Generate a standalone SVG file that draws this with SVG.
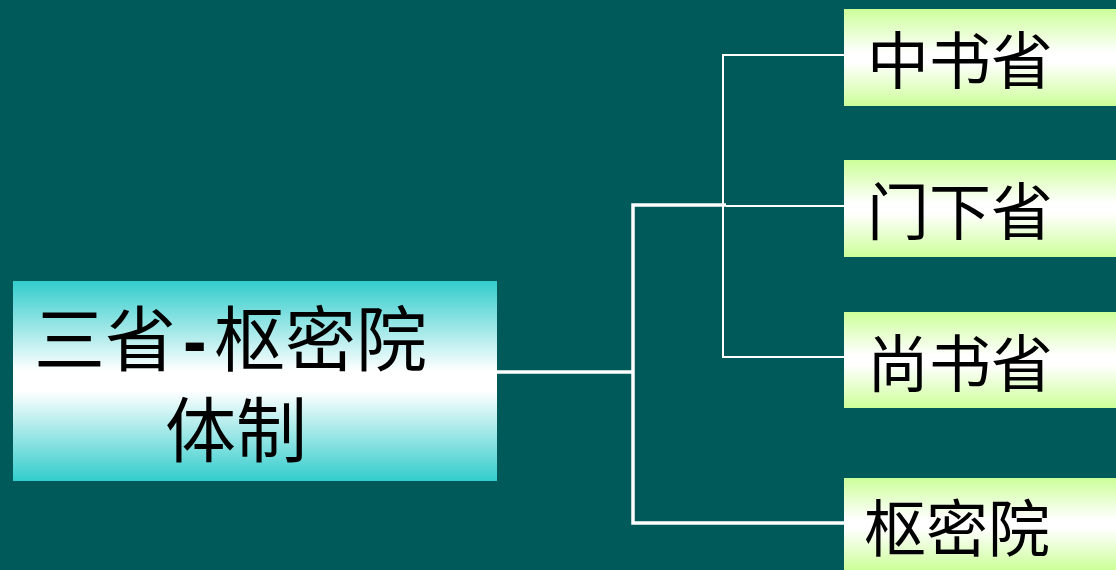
<svg xmlns="http://www.w3.org/2000/svg" width="1116" height="570" viewBox="0 0 1116 570">
<defs>
<linearGradient id="gTeal" x1="0" y1="0" x2="0" y2="1">
<stop offset="0" stop-color="#33CCCC"/>
<stop offset="0.45" stop-color="#FFFFFF"/>
<stop offset="0.55" stop-color="#FFFFFF"/>
<stop offset="1" stop-color="#33CCCC"/>
</linearGradient>
<linearGradient id="gGreen" x1="0" y1="0" x2="0" y2="1">
<stop offset="0" stop-color="#CCFF99"/>
<stop offset="0.45" stop-color="#FFFFFF"/>
<stop offset="0.55" stop-color="#FFFFFF"/>
<stop offset="1" stop-color="#CCFF99"/>
</linearGradient>
</defs>
<style>
.t{font-family:"Noto Sans CJK SC","Noto Sans",sans-serif;fill:#000;}
.big{font-size:71px;}
.sm{font-size:62px;}
.dash{font-family:"Liberation Sans",Arial,sans-serif;font-weight:bold;}
.thick{stroke:#FFFFFF;stroke-width:3.5;fill:none;}
.thin{stroke:#FFFFFF;stroke-width:2;fill:none;}
</style>
<rect width="1116" height="570" fill="#005A5A"/>
<g id="connectors">
<line class="thick" x1="497" y1="372" x2="633" y2="372"/>
<polyline class="thick" points="726,205 633,205 633,523 844,523"/>
<line class="thin" x1="726" y1="206" x2="844" y2="206"/>
<polyline class="thin" points="728,55 723,55 723,357 844,357"/>
<line class="thin" x1="728" y1="55" x2="844" y2="55"/>
</g>
<g id="root">
<rect x="13" y="281" width="484" height="200" fill="url(#gTeal)"/>
<text class="t big"><tspan x="34" y="365">三省</tspan><tspan class="dash" x="183" y="365">-</tspan><tspan x="214" y="365">枢密院</tspan><tspan x="165" y="456">体制</tspan></text>
</g>
<g id="zhongshu">
<rect x="844" y="9" width="272" height="97" fill="url(#gGreen)"/>
<text class="t sm" x="867" y="84">中书省</text>
</g>
<g id="menxia">
<rect x="844" y="160" width="272" height="97" fill="url(#gGreen)"/>
<text class="t sm" x="867" y="235">门下省</text>
</g>
<g id="shangshu">
<rect x="844" y="312" width="272" height="96" fill="url(#gGreen)"/>
<text class="t sm" x="867" y="387">尚书省</text>
</g>
<g id="shumi">
<rect x="844" y="478" width="272" height="92" fill="url(#gGreen)"/>
<text class="t sm" x="864" y="552">枢密院</text>
</g>
</svg>
